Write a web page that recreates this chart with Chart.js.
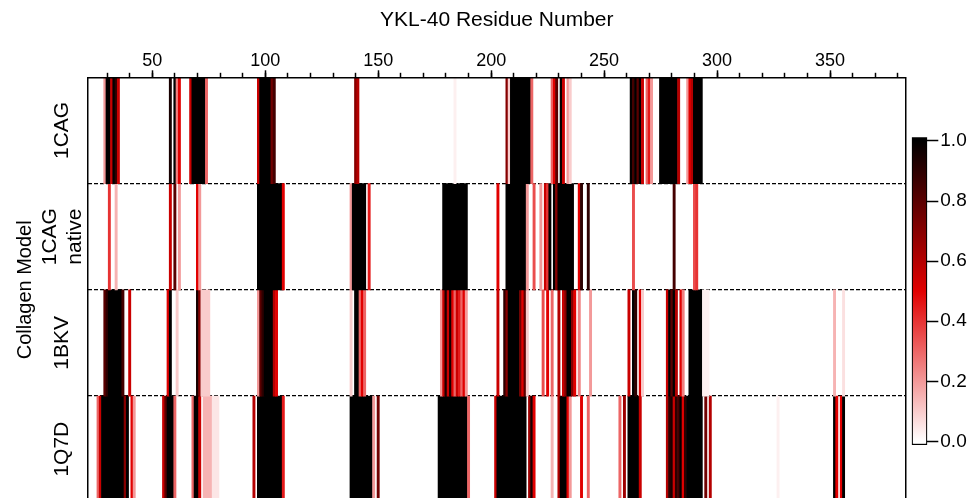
<!DOCTYPE html>
<html>
<head>
<meta charset="utf-8">
<script src="https://cdn.jsdelivr.net/npm/chart.js@4.4.1/dist/chart.umd.min.js"></script>
<style>
  html, body { margin: 0; padding: 0; background: #fff; overflow: hidden; }
  #wrap { position: relative; width: 969px; height: 498px; overflow: hidden; }
  #heat { position: absolute; left: 0; top: 0; }
  #scaleBar { position: absolute; left: 900px; top: 120px; }
</style>
</head>
<body>
<div id="wrap">
  <canvas id="heat" width="969" height="520"></canvas>
  <canvas id="scaleBar" width="69" height="340"></canvas>
</div>
<script>
// residue range of YKL-40 shown on the x axis
const firstResidue = 22;
const lastResidue = 383;
const majorTicks = [50, 100, 150, 200, 250, 300, 350];
const minorStep = 10;
const colourTicks = [0, 0.2, 0.4, 0.6, 0.8, 1.0];
// the colour bar runs a little past 0 and 1
const colourBarEnds = [-0.012, 1.012];

const rowNames = [['1CAG'], ['1CAG', 'native'], ['1BKV'], ['1Q7D']];

// runs of residues: [first, last, value]
const cagRuns = [
  [29, 29, 0.2], [30, 31, 1], [32, 32, 0.55], [33, 33, 1], [34, 34, 0.9], [35, 35, 0.55],
  [58, 58, 0.95], [60, 60, 1], [61, 61, 0.25], [62, 62, 0.5],
  [67, 67, 0.55], [68, 73, 1], [74, 74, 0.3],
  [97, 97, 0.55], [98, 102, 1], [103, 103, 0.75], [104, 104, 0.85],
  [140, 140, 0.7], [141, 141, 0.6],
  [184, 184, 0.03],
  [207, 207, 0.7], [208, 208, 0.1], [209, 217, 1], [218, 218, 0.3],
  [227, 227, 0.3], [228, 228, 0.5], [229, 229, 0.8], [231, 231, 1], [232, 232, 0.55], [234, 234, 0.2], [235, 235, 0.1],
  [262, 262, 1], [263, 263, 0.85], [264, 264, 1], [265, 265, 0.8], [266, 266, 1], [267, 267, 0.55],
  [269, 269, 0.3], [270, 270, 0.45], [271, 271, 0.2],
  [275, 282, 1], [283, 283, 0.6], [287, 287, 0.2], [288, 288, 0.5], [289, 289, 0.6], [290, 293, 1]
];

const cagNativeRuns = [
  [31, 31, 0.4], [34, 34, 0.15], [58, 58, 0.55], [60, 60, 0.8], [62, 62, 0.2],
  [70, 70, 0.5], [71, 71, 0.2],
  [97, 107, 1], [108, 108, 0.5],
  [138, 138, 0.2], [139, 144, 1], [146, 146, 0.45],
  [179, 189, 1], [203, 203, 0.5],
  [207, 215, 1], [216, 216, 0.2], [219, 219, 0.35], [222, 222, 0.2], [224, 224, 0.55], [225, 225, 0.4],
  [226, 226, 1], [228, 228, 1], [229, 229, 0.7], [230, 236, 1], [239, 239, 0.5], [240, 240, 0.9], [243, 243, 0.9],
  [263, 263, 0.35], [281, 281, 0.85], [290, 290, 0.35], [291, 291, 0.4]
];

const bkvRuns = [
  [29, 29, 0.8], [30, 30, 0.9], [31, 36, 1], [37, 37, 0.85], [40, 40, 0.55],
  [57, 57, 0.5], [58, 58, 1], [61, 61, 0.1],
  [70, 70, 0.95], [71, 71, 0.7], [72, 75, 0.1],
  [97, 97, 0.2], [98, 98, 0.8], [99, 99, 0.9], [100, 103, 1], [104, 104, 0.6], [105, 105, 0.5],
  [138, 138, 0.1], [140, 141, 1], [142, 142, 0.3], [143, 143, 0.5], [144, 144, 0.3],
  [178, 178, 0.2], [179, 179, 0.55], [180, 180, 0.95], [181, 181, 0.55], [182, 182, 0.95], [183, 183, 0.5],
  [184, 184, 0.3], [185, 185, 0.55], [186, 186, 0.45], [187, 187, 0.3], [188, 188, 0.5], [189, 189, 0.2],
  [203, 203, 0.55], [206, 206, 0.9], [207, 207, 0.7], [208, 212, 1], [213, 213, 0.75], [214, 214, 0.5],
  [215, 215, 0.8], [216, 216, 0.1], [223, 223, 0.35], [225, 225, 0.5], [227, 227, 0.3],
  [230, 230, 0.6], [232, 232, 0.55], [233, 233, 0.7], [234, 235, 1], [236, 236, 0.7], [237, 237, 0.5],
  [239, 239, 0.25], [244, 244, 0.2],
  [261, 261, 0.55], [263, 263, 1], [264, 264, 0.9], [266, 266, 0.5], [267, 267, 0.1],
  [278, 278, 0.55], [279, 279, 1], [280, 280, 0.8], [281, 281, 1], [282, 282, 0.6],
  [284, 284, 0.5], [285, 285, 0.25], [288, 293, 1], [294, 296, 0.03],
  [352, 352, 0.15], [356, 356, 0.06]
];

const q7dRuns = [
  [26, 26, 0.3], [27, 27, 0.55], [28, 37, 1], [38, 38, 0.7], [39, 39, 1], [41, 41, 0.5], [42, 42, 0.2],
  [55, 55, 0.55], [56, 56, 0.8], [57, 59, 1], [60, 60, 0.3],
  [68, 68, 0.3], [69, 70, 1], [71, 71, 0.55], [73, 76, 0.15], [77, 79, 0.05],
  [95, 95, 0.6], [97, 107, 1], [108, 108, 0.45],
  [138, 147, 1], [148, 148, 0.2], [150, 150, 0.75],
  [177, 189, 1], [190, 190, 0.3],
  [202, 202, 0.55], [203, 215, 1], [217, 217, 0.65], [218, 218, 0.95], [219, 219, 0.5],
  [227, 227, 0.15], [230, 230, 0.6], [231, 233, 1], [234, 234, 0.5], [235, 235, 0.2],
  [240, 240, 0.5], [243, 243, 0.3],
  [257, 257, 0.3], [259, 259, 0.65], [261, 265, 1], [266, 266, 0.55],
  [278, 278, 0.6], [279, 279, 0.9], [280, 280, 0.95], [281, 281, 0.55], [282, 282, 0.9], [283, 283, 0.85],
  [284, 284, 1], [285, 285, 0.5], [286, 286, 0.9], [287, 293, 1], [295, 295, 0.75], [297, 297, 0.6],
  [327, 327, 0.03],
  [352, 352, 1], [353, 353, 0.5], [355, 355, 0.5], [356, 356, 1]
];

const rowRuns = [cagRuns, cagNativeRuns, bkvRuns, q7dRuns];

const FONT = 'Liberation Sans, Arial, Helvetica, sans-serif';
const RED = 225;

// white -> red -> black
function heatColor(v) {
  let r, g;
  if (v <= 0.5) {
    const t = Math.max(v, 0) / 0.5;
    r = 255 + (RED - 255) * t;
    g = 255 * (1 - t);
  } else {
    const t = (Math.min(v, 1) - 0.5) / 0.5;
    r = RED * (1 - t);
    g = 0;
  }
  return `rgb(${Math.round(r)}, ${Math.round(g)}, ${Math.round(g)})`;
}

const xMin = firstResidue - 0.5;
const xMax = lastResidue + 0.5;

const datasets = rowRuns.map((runs, i) => ({
  label: rowNames[i].join(' '),
  data: runs.map(([s, e, v]) => ({ y: i + 0.5, x: [s - 0.5, e + 0.5], v })),
  backgroundColor: c => (c.raw ? heatColor(c.raw.v) : 'transparent'),
  borderWidth: 0,
  grouped: false,
  barPercentage: 1,
  categoryPercentage: 1
}));

new Chart(document.getElementById('heat'), {
  type: 'bar',
  data: { datasets },
  options: {
    indexAxis: 'y',
    responsive: false,
    animation: false,
    events: [],
    layout: { padding: { left: 0, top: 0, right: 63.3, bottom: 17.7 } },
    plugins: { legend: { display: false }, tooltip: { enabled: false } },
    scales: {
      x: {
        type: 'linear', position: 'top', min: xMin, max: xMax, weight: 1,
        afterBuildTicks: s => { s.ticks = majorTicks.map(v => ({ value: v })); },
        ticks: { font: { family: FONT, size: 18 }, color: '#000', padding: -2, maxRotation: 0 },
        grid: { drawOnChartArea: false, tickLength: 7, tickWidth: 1.5, tickColor: '#000' },
        border: { color: '#000', width: 1.5, z: 1 },
        title: {
          display: true, text: 'YKL-40 Residue Number', color: '#000',
          font: { family: FONT, size: 21 }, padding: { top: 8, bottom: 0 }
        },
        afterFit: s => { s.height = 77.3; }
      },
      // minor tick marks only
      x2: {
        type: 'linear', position: 'top', min: xMin, max: xMax, weight: 0,
        ticks: { display: false, stepSize: minorStep, includeBounds: false },
        grid: { drawOnChartArea: false, tickLength: 4.5, tickWidth: 1.5, tickColor: '#000' },
        border: { display: false },
        afterFit: s => { s.height = 0; }
      },
      y: {
        type: 'linear', position: 'left', min: 0, max: rowNames.length, reverse: true, weight: 1,
        offset: false,
        afterBuildTicks: s => { s.ticks = rowNames.map((_, i) => ({ value: i + 0.5 })); },
        ticks: {
          callback: v => rowNames[Math.floor(v)],
          font: { family: FONT, size: 21 }, color: '#000',
          minRotation: 90, maxRotation: 90, crossAlign: 'center', padding: -3
        },
        grid: { display: false, drawTicks: false, offset: false },
        border: { color: '#000', width: 1.5, z: 1 },
        title: {
          display: true, text: 'Collagen Model', color: '#000',
          font: { family: FONT, size: 20 }, padding: { top: 13, bottom: 0 }
        },
        afterFit: s => { s.width = 87.9; }
      },
      // dashed row separators
      yg: {
        type: 'linear', position: 'left', min: 0, max: rowNames.length, reverse: true, weight: 0,
        offset: false,
        afterBuildTicks: s => { s.ticks = rowNames.slice(1).map((_, i) => ({ value: i + 1 })); },
        ticks: { display: false },
        grid: { color: '#000', lineWidth: 1.2, drawTicks: false, offset: false },
        border: { display: false, dash: [4, 2] },
        afterFit: s => { s.width = 0; }
      },
      yr: {
        type: 'linear', position: 'right', min: 0, max: rowNames.length,
        offset: false,
        ticks: { display: false },
        grid: { display: false, drawTicks: false, offset: false },
        border: { color: '#000', width: 1.5, z: 1 },
        afterFit: s => { s.width = 0; }
      }
    }
  }
});

// colour scale bar
function barGradient(c) {
  const { ctx, chartArea, scales } = c.chart;
  if (!chartArea) return heatColor(0.5);
  const y = scales.y;
  const g = ctx.createLinearGradient(0, y.getPixelForValue(0), 0, y.getPixelForValue(1));
  [0, 0.5, 1].forEach(v => g.addColorStop(v, heatColor(v)));
  return g;
}

new Chart(document.getElementById('scaleBar'), {
  type: 'bar',
  data: {
    labels: ['value'],
    datasets: [{
      data: [colourBarEnds],
      backgroundColor: barGradient,
      borderColor: '#000', borderWidth: 1.5, borderSkipped: false,
      barPercentage: 1, categoryPercentage: 1
    }]
  },
  options: {
    responsive: false,
    animation: false,
    events: [],
    layout: { padding: { left: 11.7, top: 17.3, right: 0, bottom: 15 } },
    plugins: { legend: { display: false }, tooltip: { enabled: false } },
    scales: {
      x: { display: false },
      y: {
        position: 'right', min: colourBarEnds[0], max: colourBarEnds[1],
        afterBuildTicks: s => { s.ticks = colourTicks.map(v => ({ value: v })); },
        ticks: { callback: v => v.toFixed(1), font: { family: FONT, size: 19 }, color: '#000', padding: 2 },
        grid: { drawOnChartArea: false, tickLength: 11, tickWidth: 1.5, tickColor: '#000' },
        border: { display: false },
        afterFit: s => { s.width = 41.7; }
      }
    }
  }
});
</script>
</body>
</html>
